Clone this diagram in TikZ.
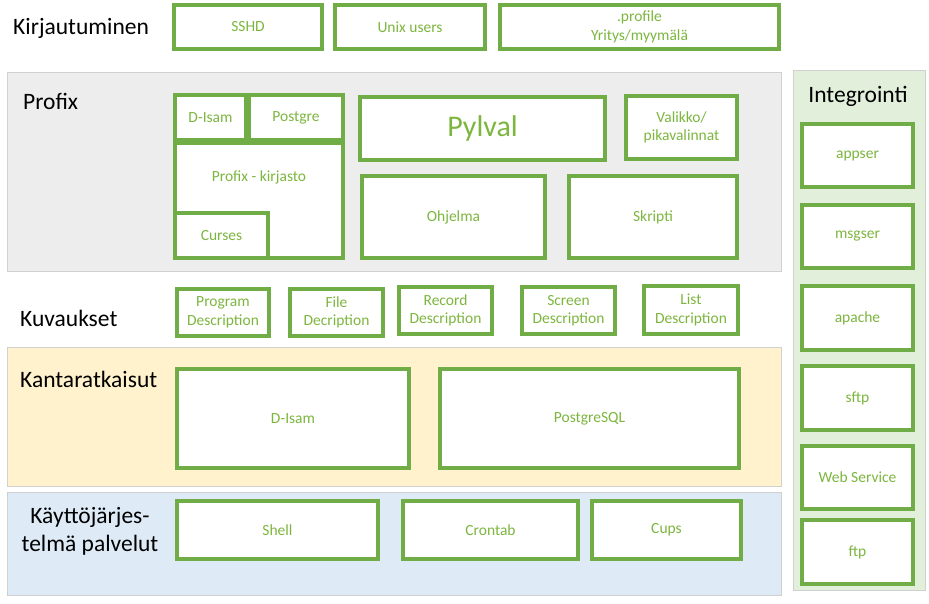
\documentclass[tikz,border=0pt]{standalone}
\usepackage{fontspec}
\setmainfont{Carlito}
\definecolor{gbox}{HTML}{70AD47}
\definecolor{gtext}{HTML}{7DB63F}
\definecolor{pgray}{HTML}{EDEDED}
\definecolor{pyellow}{HTML}{FFF2CC}
\definecolor{pblue}{HTML}{DEEBF7}
\definecolor{pgreen}{HTML}{E2EFDA}
\definecolor{pline}{HTML}{D0D0D0}
\begin{document}
\begin{tikzpicture}[x=1pt,y=-1pt,
  box/.style={draw=gbox,line width=4pt,fill=white,text=gtext,font=\fontsize{15.5}{18.5}\selectfont,align=center,inner sep=0pt,outer sep=0pt},
  panel/.style={draw=pline,line width=1pt},
  lbl/.style={font=\fontsize{23.5}{28}\selectfont,text=black,inner sep=0pt}]
\useasboundingbox (0,0) rectangle (929,603);
% panels
\draw[panel,fill=pgray] (7,72) rectangle (781,271);
\draw[panel,fill=pyellow] (7,347) rectangle (781,486);
\draw[panel,fill=pblue] (7,492) rectangle (781,595);
\draw[panel,fill=pgreen] (793,70) rectangle (925,590);
% labels
\node[lbl,anchor=west] (lkirj) at (13,28) {Kirjautuminen};
\node[lbl,anchor=west] (lprof) at (23,101) {Profix};
\node[lbl,anchor=west] (lkuv) at (20,318) {Kuvaukset};
\node[lbl,anchor=west] (lkant) at (20,379) {Kantaratkaisut};
\node[lbl,align=center] (lkay) at (90,531) {Käyttöjärjes-\\telmä palvelut};
\node[lbl] (lint) at (858,96) {Integrointi};
% Kirjautuminen
\node[box,minimum width=148,minimum height=44] (sshd) at (248,27) {SSHD};
\node[box,minimum width=150,minimum height=44] (unix) at (410,27) {Unix users};
\node[box,minimum width=279,minimum height=44] (profile) at (639.5,27) {.profile\\Yritys/myymälä};
% Profix
\node[box,minimum width=168,minimum height=115] (kirjasto) at (259,200.5) {};
\node[text=gtext,font=\fontsize{15.5}{18.5}\selectfont,inner sep=0pt] (kirjastolbl) at (259,177) {Profix - kirjasto};
\node[box,minimum width=71,minimum height=45] (disams) at (210.5,117.5) {D-Isam};
\node[box,minimum width=94,minimum height=45] (postgre) at (296,117.5) {Postgre};
\node[box,minimum width=93,minimum height=45] (curses) at (221.5,235.5) {Curses};
\node[box,minimum width=245,minimum height=63,font=\fontsize{30}{34}\selectfont] (pylval) at (482.5,128) {Pylval};
\node[box,minimum width=111,minimum height=63] (valikko) at (681.5,127.5) {Valikko/\\pikavalinnat};
\node[box,minimum width=183,minimum height=82] (ohjelma) at (453.5,217) {Ohjelma};
\node[box,minimum width=168,minimum height=82] (skripti) at (653,217) {Skripti};
% Kuvaukset
\node[box,minimum width=92,minimum height=47] (progd) at (223,312.5) {Program\\Description};
\node[box,minimum width=93,minimum height=47] (filed) at (336.5,312.5) {File\\Decription};
\node[box,minimum width=93,minimum height=47] (recd) at (445.5,310.5) {Record\\Description};
\node[box,minimum width=93,minimum height=47] (scrd) at (568.5,310.5) {Screen\\Description};
\node[box,minimum width=94,minimum height=48] (listd) at (691,310) {List\\Description};
% Kantaratkaisut
\node[box,minimum width=232,minimum height=99] (disamb) at (293,418.5) {D-Isam};
\node[box,minimum width=299,minimum height=99] (pgsql) at (589.5,418.5) {PostgreSQL};
% Kayttojarjestelma
\node[box,minimum width=201,minimum height=58] (shell) at (277.5,530) {Shell};
\node[box,minimum width=175,minimum height=58] (crontab) at (490.5,530) {Crontab};
\node[box,minimum width=149,minimum height=58] (cups) at (666.5,530) {Cups};
% Integrointi
\node[box,minimum width=111,minimum height=63] (appser) at (857.5,155.5) {appser};
\node[box,minimum width=111,minimum height=63] (msgser) at (857.5,236.5) {msgser};
\node[box,minimum width=111,minimum height=64] (apache) at (857.5,318) {apache};
\node[box,minimum width=111,minimum height=64] (sftp) at (857.5,398) {sftp};
\node[box,minimum width=111,minimum height=63] (websrv) at (857.5,477.5) {Web Service};
\node[box,minimum width=111,minimum height=64] (ftp) at (857.5,552) {ftp};
\end{tikzpicture}
\end{document}
